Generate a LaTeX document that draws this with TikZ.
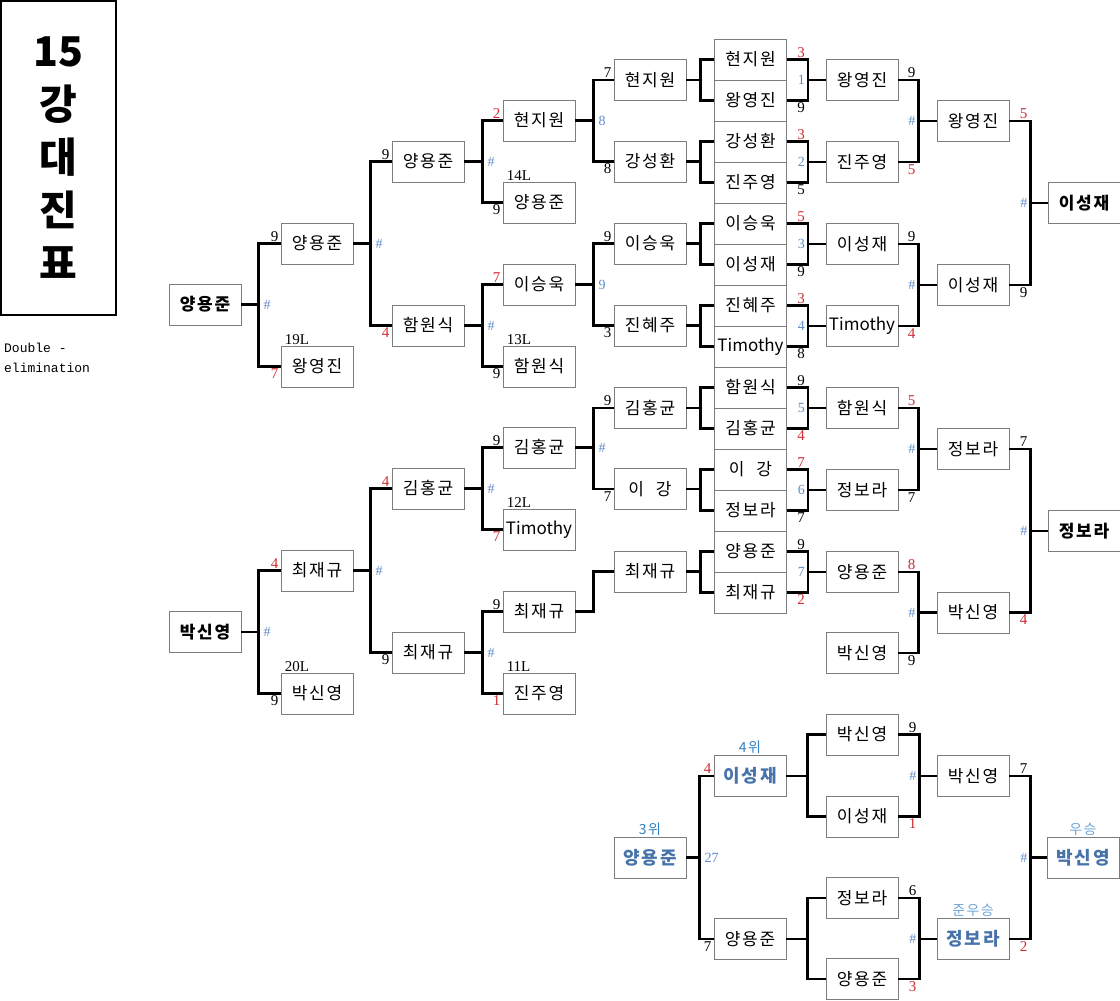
\documentclass[tikz,border=0pt]{standalone}
\usepackage{fontspec}
\setmainfont{Liberation Serif}
\newfontfamily\kr{Noto Sans CJK KR}[LetterSpace=10]
\newfontfamily\krtitle{Noto Sans CJK KR}
\newfontfamily\mono{Liberation Mono}
\usetikzlibrary{calc, positioning}

\definecolor{boxgray}{RGB}{125,125,125}
\definecolor{scorered}{RGB}{205,45,50}
\definecolor{hashblue}{RGB}{95,140,200}
\definecolor{nameblue}{RGB}{70,115,170}
\definecolor{rankblue}{RGB}{50,130,195}
\definecolor{ranklight}{RGB}{110,165,215}

\newcommand{\rs}[1]{\textcolor{scorered}{#1}}
\newcommand{\tim}{{\krtitle Timothy}}
\newcommand{\leekang}{이\hspace{12pt}강}

% parent on the left, two entrants on the right
\newcommand{\splitto}[4]{%
  \draw[link] (#3.west) -| ($(#1.east)+(#2,0)$) |- (#4.west);
  \draw[link] (#1.east) -- ++(#2,0);}
% same, with the two scores and the match number
\newcommand{\splitscore}[7]{%
  \splitto{#1}{#2}{#3}{#4}
  \node[score, anchor=south east] (#3s) at (#3.west) {#5};
  \node[hash, anchor=west] (#1h) at ($(#1.east)+(#2+4,0)$) {#6};
  \node[score, anchor=north east] (#4s) at (#4.west) {#7};}
% two entrants on the left, winner on the right
\newcommand{\joininto}[4]{%
  \draw[link] (#1.east) -- ++(#3,0) |- (#2.east);
  \draw[link] (#1.east) ++(#3,0) |- (#4.west);}
\newcommand{\joinscore}[7]{%
  \joininto{#1}{#2}{#3}{#4}
  \node[score, anchor=south east] (#1s) at ($(#1.east)+(#3-1,0)$) {#5};
  \node[hash, anchor=east] (#4h) at ($(#1.east)!.5!(#2.east)+(#3-2,0)$) {#6};
  \node[score, anchor=north east] (#2s) at ($(#2.east)+(#3-1,0)$) {#7};}

\begin{document}
\begin{tikzpicture}[
    x=1pt, y=-1pt,
    team/.style={draw=boxgray, line width=0.9pt, fill=white, minimum width=72pt,
        minimum height=41pt, inner sep=0pt, font=\fontsize{17}{20}\selectfont\kr},
    head/.style={team, font=\fontsize{17}{20}\selectfont\kr\bfseries},
    final/.style={team, text=nameblue, font=\fontsize{18}{20}\selectfont\kr\bfseries},
    score/.style={inner sep=2pt, font=\fontsize{15}{15}\selectfont},
    hash/.style={inner sep=1pt, text=hashblue, font=\fontsize{14}{14}\selectfont},
    seed/.style={inner sep=1pt, xshift=3pt, font=\fontsize{15}{15}\selectfont},
    rank/.style={inner sep=1pt, text=rankblue, font=\fontsize{14}{14}\selectfont\kr},
    link/.style={line width=2.4pt},
]
\useasboundingbox (0,0) rectangle (1120,1001);

% title
\node[draw, line width=1.6pt, minimum width=115pt, minimum height=314pt, align=center,
    font=\fontsize{41}{53}\selectfont\krtitle\bfseries] (title) at (58.5,158) {15\\강\\대\\진\\표};
\node[anchor=north west, inner sep=0pt, align=left,
    font=\fontsize{13}{20}\selectfont\mono] (note) at (4,343) {Double -\\elimination};

% upper left bracket
\node[head] (u0) at (205,304.5) {양용준};
\node[team] (u1a) at (317,243.5) {양용준};
\node[team, label={[seed, anchor=south west]north west:19L}] (u1b) at (317,366.5) {왕영진};
\node[team] (u2a) at (428,161.5) {양용준};
\node[team] (u2b) at (428,325.5) {함원식};
\node[team] (u3a) at (539,120.5) {현지원};
\node[team, label={[seed, anchor=south west]north west:14L}] (u3b) at (539,202.5) {양용준};
\node[team] (u3c) at (539,284.5) {이승욱};
\node[team, label={[seed, anchor=south west]north west:13L}] (u3d) at (539,366.5) {함원식};
\node[team] (u4a) at (650,80) {현지원};
\node[team] (u4b) at (650,161.5) {강성환};
\node[team] (u4c) at (650,243.5) {이승욱};
\node[team] (u4d) at (650,325.5) {진혜주};

% lower left bracket
\node[head] (l0) at (205,632) {박신영};
\node[team] (l1a) at (317,570.5) {최재규};
\node[team, label={[seed, anchor=south west]north west:20L}] (l1b) at (317,693.5) {박신영};
\node[team] (l2a) at (428,488.5) {김홍균};
\node[team] (l2b) at (428,652.5) {최재규};
\node[team] (l3a) at (539,447.5) {김홍균};
\node[team, label={[seed, anchor=south west]north west:12L}] (l3b) at (539,529.5) {\tim};
\node[team] (l3c) at (539,611.5) {최재규};
\node[team, label={[seed, anchor=south west]north west:11L}] (l3d) at (539,693.5) {진주영};
\node[team] (l4a) at (650,408) {김홍균};
\node[team] (l4b) at (650,489) {\leekang};
\node[team] (l4c) at (650,571.5) {최재규};

% middle stack
\foreach \nm [count=\i] in {현지원,왕영진,강성환,진주영,이승욱,이성재,진혜주,\tim,함원식,김홍균,\leekang,정보라,양용준,최재규}
  \node[team] (s\i) at (750.5,{18.5+41*\i}) {\nm};

% right side
\node[team] (r1) at (862,80) {왕영진};
\node[team] (r2) at (862,162) {진주영};
\node[team] (r3) at (862,244) {이성재};
\node[team] (r4) at (862,326) {\tim};
\node[team] (r5) at (862,408) {함원식};
\node[team] (r6) at (862,490) {정보라};
\node[team] (r7) at (862,572) {양용준};
\node[team] (r8) at (862,653) {박신영};
\node[team] (rr1) at (973,121) {왕영진};
\node[team] (rr2) at (973,285) {이성재};
\node[team] (rr3) at (973,449) {정보라};
\node[team] (rr4) at (973,612.5) {박신영};
\node[head] (rw1) at (1084,203) {이성재};
\node[head] (rw2) at (1084,530.75) {정보라};

% finals
\node[final, label={[rank]above:3위}] (f0) at (650,857.5) {양용준};
\node[final, label={[rank]above:4위}] (f1a) at (750,776) {이성재};
\node[team] (f1b) at (750,939) {양용준};
\node[team] (f2a) at (862,734.5) {박신영};
\node[team] (f2b) at (862,816.5) {이성재};
\node[team] (f2c) at (862,898) {정보라};
\node[team] (f2d) at (862,979) {양용준};
\node[team] (f3a) at (973,776) {박신영};
\node[final, label={[rank, text=ranklight]above:준우승}] (f3b) at (973,939) {정보라};
\node[final, label={[rank, text=ranklight]above:우승}] (fw) at (1083,857.5) {박신영};

% connectors, left side
\splitscore{u0}{17}{u1a}{u1b}{9}{\#}{\rs{7}}
\splitscore{u1a}{17}{u2a}{u2b}{9}{\#}{\rs{4}}
\splitscore{u2a}{18}{u3a}{u3b}{\rs{2}}{\#}{9}
\splitscore{u2b}{18}{u3c}{u3d}{\rs{7}}{\#}{9}
\splitscore{u3a}{18}{u4a}{u4b}{7}{8}{8}
\splitscore{u3c}{18}{u4c}{u4d}{9}{9}{3}
\splitto{u4a}{14}{s1}{s2}
\splitto{u4b}{14}{s3}{s4}
\splitto{u4c}{14}{s5}{s6}
\splitto{u4d}{14}{s7}{s8}
\splitscore{l0}{17}{l1a}{l1b}{\rs{4}}{\#}{9}
\splitscore{l1a}{17}{l2a}{l2b}{\rs{4}}{\#}{9}
\splitscore{l2a}{18}{l3a}{l3b}{9}{\#}{\rs{7}}
\splitscore{l2b}{18}{l3c}{l3d}{9}{\#}{\rs{1}}
\splitscore{l3a}{18}{l4a}{l4b}{9}{\#}{7}
\draw[link] (l3c.east) -- ++(18,0) |- (l4c.west);
\splitto{l4a}{14}{s9}{s10}
\splitto{l4b}{14}{s11}{s12}
\splitto{l4c}{14}{s13}{s14}

% connectors, right side
\joinscore{s1}{s2}{21}{r1}{\rs{3}}{1}{9}
\joinscore{s3}{s4}{21}{r2}{\rs{3}}{2}{5}
\joinscore{s5}{s6}{21}{r3}{\rs{5}}{3}{9}
\joinscore{s7}{s8}{21}{r4}{\rs{3}}{4}{8}
\joinscore{s9}{s10}{21}{r5}{9}{5}{\rs{4}}
\joinscore{s11}{s12}{21}{r6}{\rs{7}}{6}{7}
\joinscore{s13}{s14}{21}{r7}{9}{7}{\rs{2}}
\joinscore{r1}{r2}{20}{rr1}{9}{\#}{\rs{5}}
\joinscore{r3}{r4}{20}{rr2}{9}{\#}{\rs{4}}
\joinscore{r5}{r6}{20}{rr3}{\rs{5}}{\#}{7}
\joinscore{r7}{r8}{20}{rr4}{\rs{8}}{\#}{9}
\joinscore{rr1}{rr2}{21}{rw1}{\rs{5}}{\#}{9}
\joinscore{rr3}{rr4}{21}{rw2}{7}{\#}{\rs{4}}

% connectors, finals
\splitscore{f0}{13}{f1a}{f1b}{\rs{4}}{27}{7}
\splitto{f1a}{21}{f2a}{f2b}
\splitto{f1b}{21}{f2c}{f2d}
\joinscore{f2a}{f2b}{21}{f3a}{9}{\#}{\rs{1}}
\joinscore{f2c}{f2d}{21}{f3b}{6}{\#}{\rs{3}}
\joinscore{f3a}{f3b}{21}{fw}{7}{\#}{\rs{2}}
\end{tikzpicture}
\end{document}
